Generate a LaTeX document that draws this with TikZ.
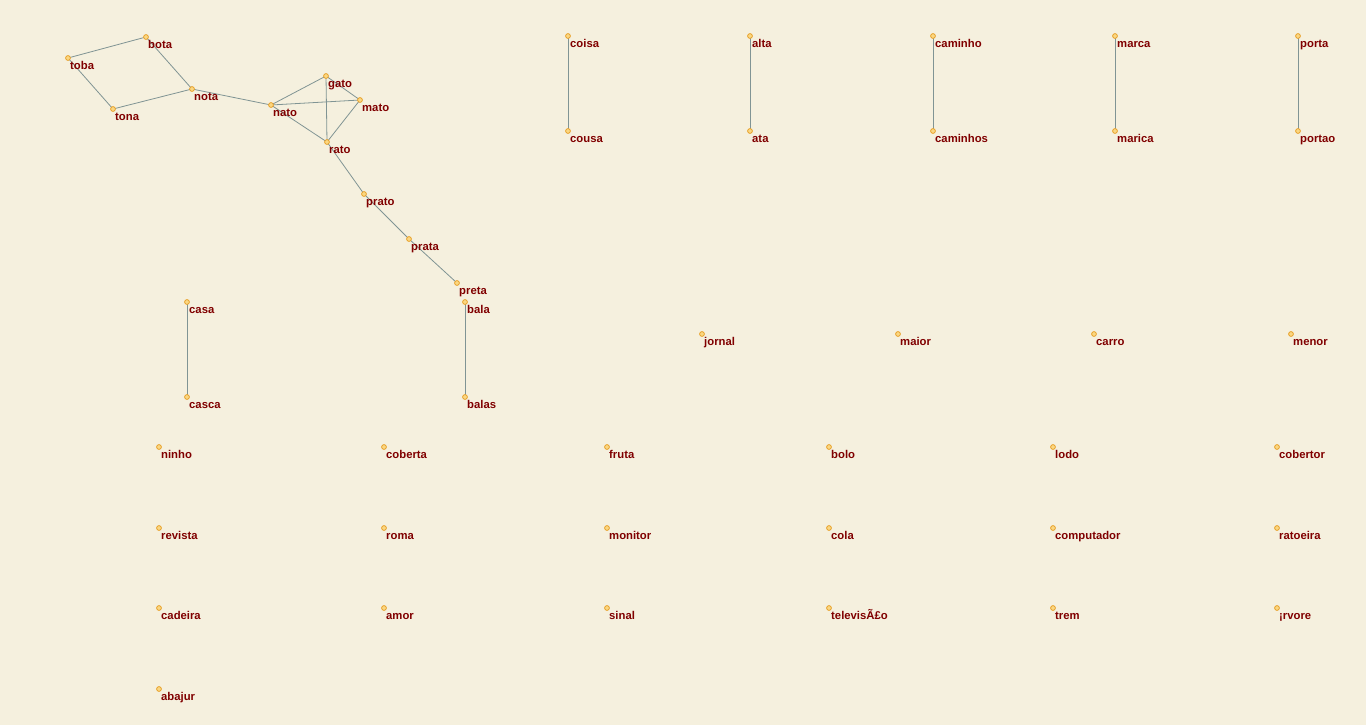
\documentclass[tikz,border=0pt]{standalone}
\usepackage{fontspec}
\setmainfont{Liberation Sans}
\usetikzlibrary{backgrounds}
\definecolor{bgc}{RGB}{245,240,222}
\definecolor{lblc}{RGB}{128,0,0}
\definecolor{edgec}{RGB}{128,148,148}
\definecolor{dotc}{RGB}{232,160,40}
\definecolor{dotf}{RGB}{250,215,130}
\tikzset{
  dot/.style={circle,draw=dotc,fill=dotf,line width=0.8pt,minimum size=4.8pt,inner sep=0pt},
  lbl/.style={anchor=base west,inner sep=0pt,text=lblc,font=\fontsize{11.3}{13}\selectfont\bfseries},
  edge/.style={draw=edgec,line width=0.8pt}
}
\newcommand{\wn}[4]{\node[dot] (#1) at (#2,#3) {};\node[lbl] (#1-l) at (#2+2,#3+11.5) {#4};}
\begin{document}
\begin{tikzpicture}[x=1pt,y=-1pt]
\useasboundingbox (0,0) rectangle (1366,725);
\begin{scope}[on background layer]
\fill[bgc] (0,0) rectangle (1366,725);
\end{scope}
% cluster
\wn{bota}{146}{37}{bota}
\wn{toba}{68}{58}{toba}
\wn{tona}{113}{109}{tona}
\wn{nota}{192}{89}{nota}
\wn{nato}{271}{105}{nato}
\wn{gato}{326}{76}{gato}
\wn{mato}{360}{100}{mato}
\wn{rato}{327}{142}{rato}
\wn{prato}{364}{194}{prato}
\wn{prata}{409}{239}{prata}
\wn{preta}{457}{283}{preta}
% pairs
\wn{coisa}{568}{36}{coisa}
\wn{cousa}{568}{131}{cousa}
\wn{alta}{750}{36}{alta}
\wn{ata}{750}{131}{ata}
\wn{caminho}{933}{36}{caminho}
\wn{caminhos}{933}{131}{caminhos}
\wn{marca}{1115}{36}{marca}
\wn{marica}{1115}{131}{marica}
\wn{porta}{1298}{36}{porta}
\wn{portao}{1298}{131}{portao}
\wn{casa}{187}{302}{casa}
\wn{casca}{187}{397}{casca}
\wn{bala}{465}{302}{bala}
\wn{balas}{465}{397}{balas}
% singles
\wn{jornal}{702}{334}{jornal}
\wn{maior}{898}{334}{maior}
\wn{carro}{1094}{334}{carro}
\wn{menor}{1291}{334}{menor}
\wn{ninho}{159}{447}{ninho}
\wn{coberta}{384}{447}{coberta}
\wn{fruta}{607}{447}{fruta}
\wn{bolo}{829}{447}{bolo}
\wn{lodo}{1053}{447}{lodo}
\wn{cobertor}{1277}{447}{cobertor}
\wn{revista}{159}{528}{revista}
\wn{roma}{384}{528}{roma}
\wn{monitor}{607}{528}{monitor}
\wn{cola}{829}{528}{cola}
\wn{computador}{1053}{528}{computador}
\wn{ratoeira}{1277}{528}{ratoeira}
\wn{cadeira}{159}{608}{cadeira}
\wn{amor}{384}{608}{amor}
\wn{sinal}{607}{608}{sinal}
\wn{televisao}{829}{608}{televisÃ£o}
\wn{trem}{1053}{608}{trem}
\wn{arvore}{1277}{608}{¡rvore}
\wn{abajur}{159}{689}{abajur}
\begin{scope}[on background layer]
\path[edge] (bota.center) -- (toba.center);
\path[edge] (toba.center) -- (tona.center);
\path[edge] (tona.center) -- (nota.center);
\path[edge] (bota.center) -- (nota.center);
\path[edge] (nota.center) -- (nato.center);
\path[edge] (nato.center) -- (gato.center);
\path[edge] (nato.center) -- (mato.center);
\path[edge] (nato.center) -- (rato.center);
\path[edge] (gato.center) -- (mato.center);
\path[edge] (gato.center) -- (rato.center);
\path[edge] (mato.center) -- (rato.center);
\path[edge] (rato.center) -- (prato.center);
\path[edge] (prato.center) -- (prata.center);
\path[edge] (prata.center) -- (preta.center);
\path[edge] (coisa.center) -- (cousa.center);
\path[edge] (alta.center) -- (ata.center);
\path[edge] (caminho.center) -- (caminhos.center);
\path[edge] (marca.center) -- (marica.center);
\path[edge] (porta.center) -- (portao.center);
\path[edge] (casa.center) -- (casca.center);
\path[edge] (bala.center) -- (balas.center);
\end{scope}
\end{tikzpicture}
\end{document}
